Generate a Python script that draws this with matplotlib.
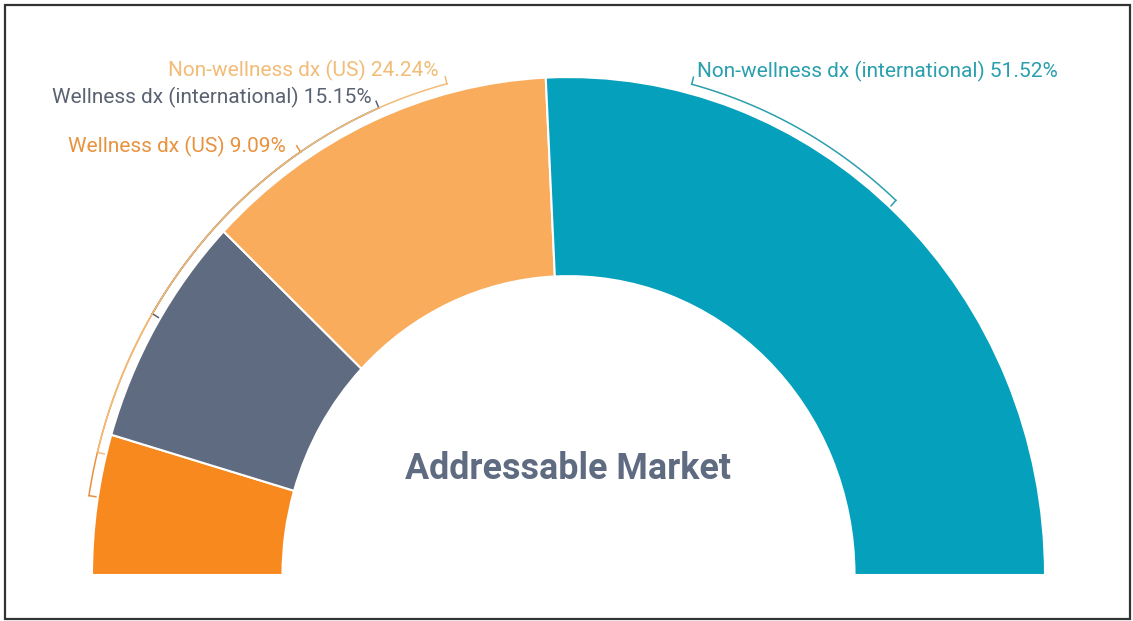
import numpy as np
import matplotlib.pyplot as plt
from matplotlib.patches import Wedge, Rectangle

plt.rcParams['font.family'] = ['Roboto', 'DejaVu Sans']

# market split, drawn left to right around the half ring
segments = ['Wellness dx (US)', 'Wellness dx (international)',
            'Non-wellness dx (US)', 'Non-wellness dx (international)']
shares = [9.09, 15.15, 24.24, 51.52]
seg_colors = ['#F7891F', '#5F6B80', '#F9AC5C', '#05A0BC']
text_colors = ['#E8923E', '#5A6272', '#F2BC78', '#2A9FAE']

# label text anchors (left x, center y in figure pixels) and bracket angles in degrees
label_x = [68, 52, 168, 697]
label_y = [146, 97, 70, 71]
bracket_start = [123.5, 113.0, 104.5, 75.3]
bracket_end = [171.0, 149.0, 166.0, 47.6]

W, H = 1133, 621
fig = plt.figure(figsize=(W / 100, H / 100), dpi=100)
ax = fig.add_axes([0, 0, 1, 1])

# ring is slightly taller than wide, so y units are stretched
cx, cy = 568.5, 575
ky = 1.045
ax.set_xlim(-cx, W - cx)
ax.set_ylim(-(H - cy) / ky, cy / ky)
ax.axis('off')

r_out, r_in = 476.5, 286.0
angle = 180.0
for share, col in zip(shares, seg_colors):
    span = share / 100 * 180
    ax.add_patch(Wedge((0, 0), r_out, angle - span, angle, width=r_out - r_in,
                       facecolor=col, edgecolor='white', linewidth=1.5))
    angle -= span

# bracket arcs just outside the ring
r_b = r_out + 9
for a0, a1, col in zip(bracket_start, bracket_end, text_colors):
    t = np.radians(np.linspace(a0, a1, 100))
    ax.plot(r_b * np.cos(t), r_b * np.sin(t), color=col, linewidth=1.1)
    t0, t1 = np.radians(a0), np.radians(a1)
    ax.plot([r_b * np.cos(t0), (r_b + 7) * np.cos(t0)],
            [r_b * np.sin(t0), (r_b + 7) * np.sin(t0)], color=col, linewidth=1.1)
    ax.plot([r_b * np.cos(t1), (r_b - 7) * np.cos(t1)],
            [r_b * np.sin(t1), (r_b - 7) * np.sin(t1)], color=col, linewidth=1.1)

for name, share, x, y, col in zip(segments, shares, label_x, label_y, text_colors):
    fig.text(x / W, 1 - y / H, f'{name} {share:.2f}%', color=col,
             fontsize=15, ha='left', va='center')

fig.text(568 / W, 1 - 469 / H, 'Addressable Market', color='#5F6B80',
         fontsize=25.8, fontweight='bold', ha='center', va='center')

# outer frame
fig.patches.append(Rectangle((5 / W, 2 / H), 1125 / W, 614 / H, transform=fig.transFigure,
                             fill=False, edgecolor='#333333', linewidth=1.6))

fig.savefig('out.png', dpi=100, facecolor='white')
